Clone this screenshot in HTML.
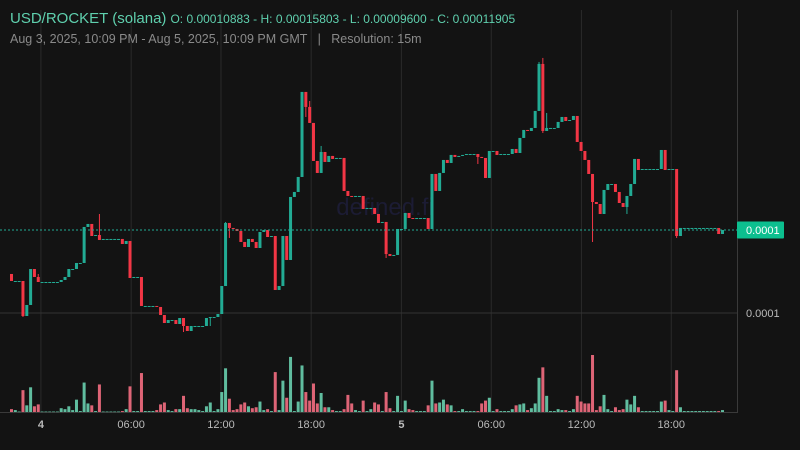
<!DOCTYPE html>
<html><head><meta charset="utf-8"><style>
html,body{margin:0;padding:0;background:#131313;}
body{width:800px;height:450px;overflow:hidden;position:relative;font-family:"Liberation Sans",sans-serif;}
.t1{position:absolute;left:10px;top:10px;color:#5fd0ae;white-space:nowrap;}
.t1 .n{font-size:15px;}
.t1 .o{font-size:12px;margin-left:4px;}
.t2{position:absolute;left:10px;top:32px;color:#8a8a8a;font-size:12.5px;white-space:nowrap;}
svg{position:absolute;left:0;top:0;}
</style></head><body>
<svg id="chart" width="800" height="450"></svg>
<div class="t1"><span class="n">USD/ROCKET (solana)</span><span class="o">O: 0.00010883 - H: 0.00015803 - L: 0.00009600 - C: 0.00011905</span></div>
<div class="t2">Aug 3, 2025, 10:09 PM - Aug 5, 2025, 10:09 PM GMT &nbsp;&nbsp;| &nbsp;&nbsp;Resolution: 15m</div>
<script>
const PRICE_UNIT = 1e-4;
const closes = [1.0734,1.0734,1.0734,0.9931,1.0184,1.1009,1.0826,1.0711,1.0711,1.0711,1.0711,1.0711,1.0711,1.0757,1.0826,1.1009,1.1009,1.1147,1.1147,1.1973,1.2042,1.1766,1.1789,1.1675,1.1698,1.1698,1.1698,1.1698,1.1698,1.1583,1.1652,1.0803,1.0826,1.0826,1.0161,1.0161,1.0161,1.0161,1.0138,0.9954,0.9771,0.9839,0.9839,0.9748,0.9885,0.9702,0.9587,0.9702,0.9702,0.9702,0.9702,0.9885,0.9908,0.9908,0.9977,1.0619,1.2065,1.1950,1.1927,1.1881,1.1629,1.1514,1.1698,1.1629,1.1491,1.1858,1.1904,1.1743,1.1766,1.0528,1.0619,1.1766,1.1216,1.2661,1.2776,1.3120,1.5070,1.4726,1.4359,1.3487,1.3212,1.3693,1.3464,1.3602,1.3533,1.3556,1.3556,1.2799,1.2684,1.2661,1.2684,1.2684,1.2386,1.2409,1.2409,1.2271,1.2065,1.2088,1.1353,1.1308,1.1331,1.1927,1.1927,1.2294,1.2179,1.2156,1.2179,1.2179,1.2179,1.1927,1.3189,1.2799,1.3212,1.3510,1.3441,1.3625,1.3579,1.3602,1.3625,1.3647,1.3647,1.3647,1.3579,1.3556,1.3097,1.3716,1.3716,1.3625,1.3647,1.3647,1.3647,1.3762,1.3670,1.4015,1.4198,1.4175,1.4244,1.4634,1.5712,1.4175,1.4244,1.4244,1.4244,1.4382,1.4496,1.4404,1.4427,1.4519,1.3923,1.3716,1.3510,1.3189,1.2546,1.2500,1.2271,1.2822,1.2959,1.2959,1.2776,1.2523,1.2432,1.2684,1.2959,1.3533,1.3280,1.3303,1.3303,1.3303,1.3303,1.3303,1.3739,1.3280,1.3303,1.3303,1.1766,1.1950,1.1950,1.1950,1.1950,1.1950,1.1950,1.1950,1.1950,1.1950,1.1950,1.1812,1.1904];
const firstOpen = 1.0895;
const highIdx = [7,23,56,78,81,138,139,140];
const highVal = [1.0895,1.2271,1.2088,1.4863,1.3831,1.5758,1.5850,1.4588];
const lowIdx = [3,45,52,57,77,80,98,122,139,152,161,174];
const lowVal = [0.9908,0.9564,0.9702,1.1721,1.4496,1.3418,1.1262,1.3418,1.4129,1.1629,1.2271,1.1721];
const volumes = [3,2,0.5,23,7,26,6,8,0.5,0.5,0.5,0.5,0.5,4,3,6,2,13,1,31,9,7,1,29,0.5,0.5,0.5,0.5,0.5,1,3,27,1,1,41,1,1,1,2,8,10,2,1,3,3,17,4,3,3,2,1,6,10,1,3,21,46,14,2,3,8,10,6,4,5,11,2,3,1,42,2,33,15,58,1,11,49,21,12,30,9,20,5,5,2,1,1,3,18,9,2,1,12,1,3,10,8,1,21,4,1,17,1,12,3,2,1,1,1,7,33,9,10,13,8,7,1,1,3,1,1,1,1,9,12,15,1,3,1,1,1,3,7,8,9,2,4,9,36,47,17,1,1,3,2,2,1,3,17,11,9,9,60,2,6,18,3,1,5,2,3,13,8,17,5,1,1,1,1,1,11,12,2,1,44,5,1,1,1,1,1,1,1,1,1,1,2];
const tickLabels = ["4","06:00","12:00","18:00","5","06:00","12:00","18:00"];
const tickIdx = [7.7,31.3,54.8,78.4,102,125.5,149.1,172.6];
const priceTicks = [1.0];

const svg = document.getElementById('chart');
const NS = 'http://www.w3.org/2000/svg';
const X0 = 11.5, X1 = 722.5, N = closes.length;
const x = i => X0 + (X1 - X0) * i / (N - 1);
const y = v => 313 - (v - 1.0) * 436;
const vy = v => 412 - v * 0.95;
const fmt = v => (v * PRICE_UNIT).toFixed(4);
function mk(tag, attrs, parent) {
  const e = document.createElementNS(NS, tag);
  for (const k in attrs) e.setAttribute(k, attrs[k]);
  (parent || svg).appendChild(e);
  return e;
}
// grid
const grid = mk('g', {});


tickIdx.forEach(t => {
  const l = mk('line', {x1: x(t), x2: x(t), y1: 10, y2: 412, stroke: '#2a2a2a', 'stroke-width': 1}, grid);
  
  
});
priceTicks.forEach(p => {
  const l = mk('line', {x1: 0, x2: 737, y1: y(p), y2: y(p), stroke: '#333', 'stroke-width': 1}, grid);
  
  
  const tx = mk('text', {x: 746, y: y(p) + 4, fill: '#bbb', 'font-size': 11, 'font-family': 'Liberation Sans, sans-serif'});
  tx.textContent = fmt(p);
  
  
});
const ax = mk('line', {x1: 737.5, x2: 737.5, y1: 10, y2: 412, stroke: '#3a3a3a'});


const bx = mk('line', {x1: 0, x2: 738, y1: 412.5, y2: 412.5, stroke: '#3a3a3a'});


// watermark
const wm = mk('text', {x: 385, y: 215, fill: '#1c1c34', 'font-size': 24, 'text-anchor': 'middle', 'font-family': 'Liberation Sans, sans-serif'});
wm.textContent = 'defined.fi';


// x ticks
tickIdx.forEach((t, k) => {
  const tx = mk('text', {x: x(t), y: 428, fill: '#bbb', 'font-size': 11, 'text-anchor': 'middle', 'font-weight': (tickLabels[k].length === 1 ? 'bold' : 'normal'), 'font-family': 'Liberation Sans, sans-serif'});
  tx.textContent = tickLabels[k];
  
  
});
// volumes
const vg = mk('g', {});


// candles
const cg = mk('g', {});


for (let i = 0; i < N; i++) {
  const o = i === 0 ? firstOpen : closes[i - 1];
  const c = closes[i];
  let h = Math.max(o, c), l = Math.min(o, c);
  const hi = highIdx.indexOf(i); if (hi >= 0) h = Math.max(h, highVal[hi]);
  const li = lowIdx.indexOf(i); if (li >= 0) l = Math.min(l, lowVal[li]);
  const up = c >= o;
  const col = up ? '#22ab94' : '#f23645';
  const cx = x(i);
  const vb = mk('rect', {x: cx - 1.5, y: vy(volumes[i]), width: 3, height: Math.max(0.6, 412 - vy(volumes[i])), fill: up ? 'rgba(110,220,185,0.85)' : 'rgba(245,110,130,0.9)'}, vg);
  
  
  const g = mk('g', {}, cg);
  
  
  mk('line', {x1: cx, x2: cx, y1: y(h), y2: y(l), stroke: col, 'stroke-width': 1}, g);
  const top = y(Math.max(o, c)), bot = y(Math.min(o, c));
  mk('rect', {x: cx - 1.5, y: top, width: 3, height: Math.max(1, bot - top), fill: col}, g);
}
// last price line
const last = closes[N - 1];
const pl = mk('line', {x1: 0, x2: 737, y1: y(last), y2: y(last), stroke: '#22ab94', 'stroke-dasharray': '2,2', 'stroke-width': 1});


const lb = mk('rect', {x: 737, y: y(last) - 8.5, width: 47, height: 17, rx: 1, fill: '#0cbf8f'});


const lt = mk('text', {x: 746, y: y(last) + 4, fill: '#fff', 'font-size': 11, 'font-family': 'Liberation Sans, sans-serif'});
lt.textContent = fmt(last);


</script>
</body></html>
